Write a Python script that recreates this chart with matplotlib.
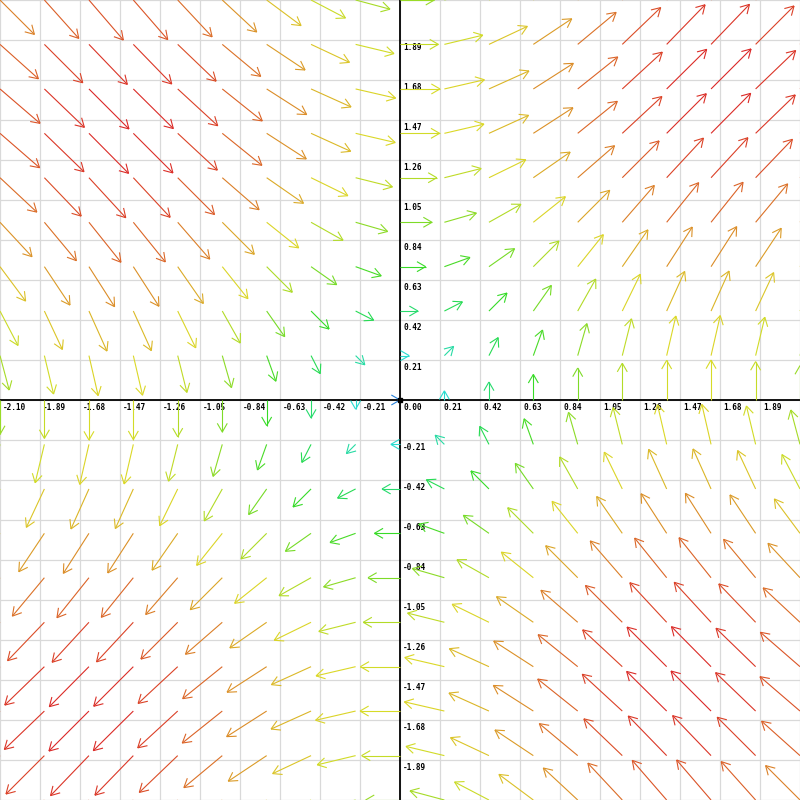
import numpy as np
import matplotlib
matplotlib.use('Agg')
import matplotlib.pyplot as plt
from matplotlib.collections import LineCollection
import colorsys

# arrow tails sit on this grid (same for x and y)
grid_pos = [-2.1, -1.867, -1.633, -1.4, -1.167, -0.933, -0.7, -0.467, -0.233, 0.0,
            0.233, 0.467, 0.7, 0.933, 1.167, 1.4, 1.633, 1.867, 2.1]
# field component at each grid position
# (horizontal part follows the row, vertical part follows the column)
comp = [-0.86, -0.96, -1.00, -0.99, -0.92, -0.80, -0.64, -0.45, -0.23, 0.0,
        0.23, 0.45, 0.64, 0.80, 0.92, 0.99, 1.00, 0.96, 0.86]

# tick labels
x_ticks = [-2.10, -1.89, -1.68, -1.47, -1.26, -1.05, -0.84, -0.63, -0.42, -0.21,
           0.00, 0.21, 0.42, 0.63, 0.84, 1.05, 1.26, 1.47, 1.68, 1.89]
y_ticks = [-1.89, -1.68, -1.47, -1.26, -1.05, -0.84, -0.63, -0.42, -0.21,
           0.21, 0.42, 0.63, 0.84, 1.05, 1.26, 1.47, 1.68, 1.89]
grid_lines = x_ticks + [2.10]

lim = 2.1
scale = 0.21      # data units per unit of field
head = 0.0525     # arrowhead length (data units)
max_mag = 1.414

fig = plt.figure(figsize=(8, 8), dpi=100)
ax = fig.add_axes([0, 0, 1, 1])
ax.set_xlim(-lim, lim)
ax.set_ylim(-lim, lim)
ax.axis('off')

# background grid
for g in grid_lines:
    ax.axvline(g, color='#d9d9d9', lw=0.9, zorder=0)
    ax.axhline(g, color='#d9d9d9', lw=0.9, zorder=0)
ax.axhline(0, color='black', lw=1.3, zorder=1)
ax.axvline(0, color='black', lw=1.3, zorder=1)

lab_kw = dict(textcoords='offset pixels', ha='left', va='top', fontsize=5.6,
              family='DejaVu Sans Mono', fontweight='bold', color='black', zorder=2)
for t in x_ticks:
    ax.annotate('%.2f' % t, (t, 0), xytext=(3, -3), **lab_kw)
for t in y_ticks:
    ax.annotate('%.2f' % t, (0, t), xytext=(3, -3), **lab_kw)

# arrows
segs, cols = [], []
for i, y in enumerate(grid_pos):
    for j, x in enumerate(grid_pos):
        u, v = comp[i], comp[j]
        x1, y1 = x + u*scale, y + v*scale
        ang = np.arctan2(v, u)
        m = np.hypot(u, v)
        hue = max(0.0, 210*(1 - m/max_mag)) / 360
        c = colorsys.hsv_to_rgb(hue, 0.82, 0.86)
        segs.append([(x, y), (x1, y1)])
        for s in (1, -1):
            a = ang + np.pi + s*np.pi/6
            segs.append([(x1, y1), (x1 + head*np.cos(a), y1 + head*np.sin(a))])
        cols += [c]*3

ax.add_collection(LineCollection(segs, colors=cols, linewidths=0.8, zorder=3))
ax.plot([0], [0], 's', color='black', ms=2.2, zorder=4)

fig.savefig('out.png', dpi=100)
